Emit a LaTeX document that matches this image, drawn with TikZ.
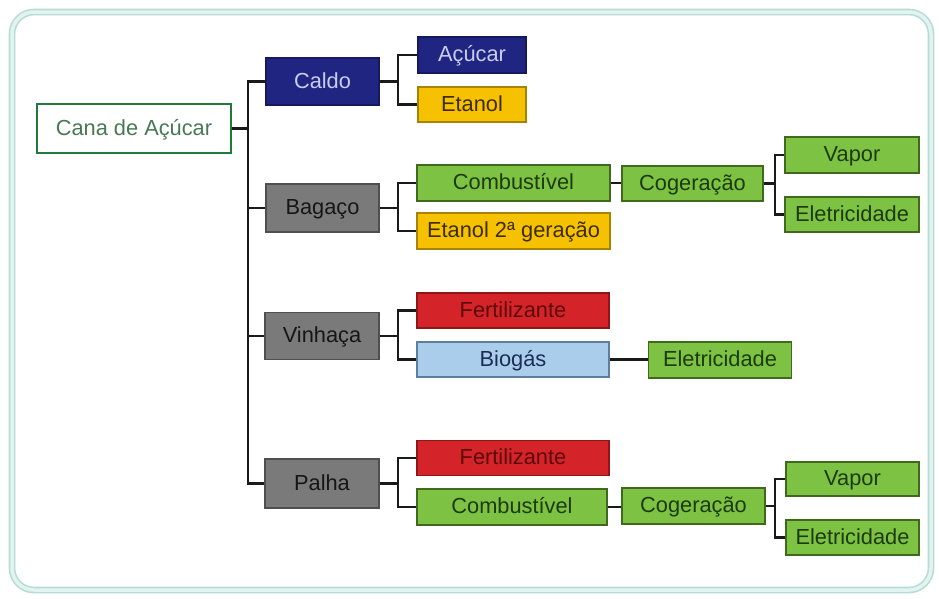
\documentclass[tikz,border=0pt]{standalone}
\usepackage{fontspec}
\setmainfont{Liberation Sans}
\definecolor{navy}{HTML}{1F2580}
\definecolor{navyd}{HTML}{141A5C}
\definecolor{navyt}{HTML}{C9CDF2}
\definecolor{gold}{HTML}{F6C200}
\definecolor{goldd}{HTML}{A88300}
\definecolor{goldt}{HTML}{3E2C00}
\definecolor{lgreen}{HTML}{7DC242}
\definecolor{lgreend}{HTML}{3F6A1E}
\definecolor{lgreent}{HTML}{1C3A0C}
\definecolor{gbox}{HTML}{7A7A7A}
\definecolor{gboxd}{HTML}{4F4F4F}
\definecolor{gboxt}{HTML}{161616}
\definecolor{rbox}{HTML}{D5232A}
\definecolor{rboxd}{HTML}{8E1518}
\definecolor{rboxt}{HTML}{5C0A0A}
\definecolor{bbox}{HTML}{A9CDEB}
\definecolor{bboxd}{HTML}{5E7F9C}
\definecolor{bboxt}{HTML}{1B2D55}
\definecolor{canag}{HTML}{1E7B3C}
\definecolor{canat}{HTML}{477A52}
\definecolor{framec}{HTML}{B5DDD6}
\definecolor{framei}{HTML}{E3F3F0}
\definecolor{linec}{HTML}{1A1A1A}
\tikzset{
  box/.style={rectangle, draw, line width=1.3pt, inner sep=0pt, anchor=center,
    text height=15.5pt, text depth=2.5pt,
    font=\fontsize{21.8}{24}\selectfont},
  navybox/.style={box, fill=navy, draw=navyd, text=navyt},
  goldbox/.style={box, fill=gold, draw=goldd, text=goldt},
  greenbox/.style={box, fill=lgreen, draw=lgreend, text=lgreent},
  graybox/.style={box, fill=gbox, draw=gboxd, text=gboxt},
  redbox/.style={box, fill=rbox, draw=rboxd, text=rboxt},
  bluebox/.style={box, fill=bbox, draw=bboxd, text=bboxt},
  conn/.style={draw=linec, line width=2.8pt, line join=miter},
}
\begin{document}
\begin{tikzpicture}[x=1pt,y=-1pt]
\useasboundingbox (0,0) rectangle (939,598);
\fill[white] (0,0) rectangle (939,598);
% frame
\draw[draw=framec, double=framei, double distance=3.5pt, line width=1.6pt, rounded corners=22pt]
  (12,12) rectangle (931,590);

% nodes
\node[box, fill=white, draw=canag, line width=2.6pt, text=canat, minimum width=194pt, minimum height=49pt] (cana) at (134,128.5) {Cana de Açúcar};

\node[navybox, minimum width=113pt, minimum height=47pt] (caldo) at (322.5,81.5) {Caldo};
\node[navybox, minimum width=108pt, minimum height=36pt] (acucar) at (472,55) {Açúcar};
\node[goldbox, minimum width=108pt, minimum height=35pt] (etanol) at (472,104.5) {Etanol};

\node[graybox, minimum width=113pt, minimum height=48pt] (bagaco) at (322.5,208) {Bagaço};
\node[greenbox, minimum width=193pt, minimum height=36pt] (comb1) at (513.5,183) {Combustível};
\node[goldbox, minimum width=193pt, minimum height=36pt] (etanol2) at (513.5,231) {Etanol 2ª geração};
\node[greenbox, minimum width=141pt, minimum height=35pt] (cog1) at (692.5,183.5) {Cogeração};
\node[greenbox, minimum width=134pt, minimum height=36pt] (vapor1) at (852,155) {Vapor};
\node[greenbox, minimum width=134pt, minimum height=35pt] (elet1) at (852,214.5) {Eletricidade};

\node[graybox, minimum width=114pt, minimum height=47pt] (vinhaca) at (322,336) {Vinhaça};
\node[redbox, minimum width=192pt, minimum height=35pt] (fert1) at (513,310.5) {Fertilizante};
\node[bluebox, minimum width=192pt, minimum height=35pt] (biogas) at (513,359.5) {Biogás};
\node[greenbox, minimum width=143pt, minimum height=36pt] (elet2) at (720,360) {Eletricidade};

\node[graybox, minimum width=114pt, minimum height=49pt] (palha) at (322,483.5) {Palha};
\node[redbox, minimum width=192pt, minimum height=35pt] (fert2) at (513,458) {Fertilizante};
\node[greenbox, minimum width=190pt, minimum height=36pt] (comb2) at (512,507) {Combustível};
\node[greenbox, minimum width=143pt, minimum height=36pt] (cog2) at (693.5,506) {Cogeração};
\node[greenbox, minimum width=133pt, minimum height=34pt] (vapor2) at (852.5,479) {Vapor};
\node[greenbox, minimum width=133pt, minimum height=35pt] (elet3) at (852.5,537.5) {Eletricidade};

% junction columns
\coordinate (j0) at (248,0);
\coordinate (j1) at (398,0);
\coordinate (j2) at (775,0);

% connectors
\draw[conn] (cana.east) -- (cana.east -| j0);
\draw[conn] (caldo.west) -- (caldo.west -| j0) -- (palha.west -| j0) -- (palha.west);
\draw[conn] (bagaco.west) -- (bagaco.west -| j0);
\draw[conn] (vinhaca.west) -- (vinhaca.west -| j0);

\draw[conn] (caldo.east) -- (caldo.east -| j1);
\draw[conn] (acucar.west) -- (acucar.west -| j1) -- (etanol.west -| j1) -- (etanol.west);

\draw[conn] (bagaco.east) -- (bagaco.east -| j1);
\draw[conn] (comb1.west) -- (comb1.west -| j1) -- (etanol2.west -| j1) -- (etanol2.west);
\draw[conn] (comb1.east) -- (cog1.west |- comb1.east);
\draw[conn] (cog1.east) -- (cog1.east -| j2);
\draw[conn] (vapor1.west) -- (vapor1.west -| j2) -- (elet1.west -| j2) -- (elet1.west);

\draw[conn] (vinhaca.east) -- (vinhaca.east -| j1);
\draw[conn] (fert1.west) -- (fert1.west -| j1) -- (biogas.west -| j1) -- (biogas.west);
\draw[conn] (biogas.east) -- (elet2.west |- biogas.east);

\draw[conn] (palha.east) -- (palha.east -| j1);
\draw[conn] (fert2.west) -- (fert2.west -| j1) -- (comb2.west -| j1) -- (comb2.west);
\draw[conn] (comb2.east) -- (cog2.west |- comb2.east);
\draw[conn] (cog2.east) -- (cog2.east -| j2);
\draw[conn] (vapor2.west) -- (vapor2.west -| j2) -- (elet3.west -| j2) -- (elet3.west);
\end{tikzpicture}
\end{document}
